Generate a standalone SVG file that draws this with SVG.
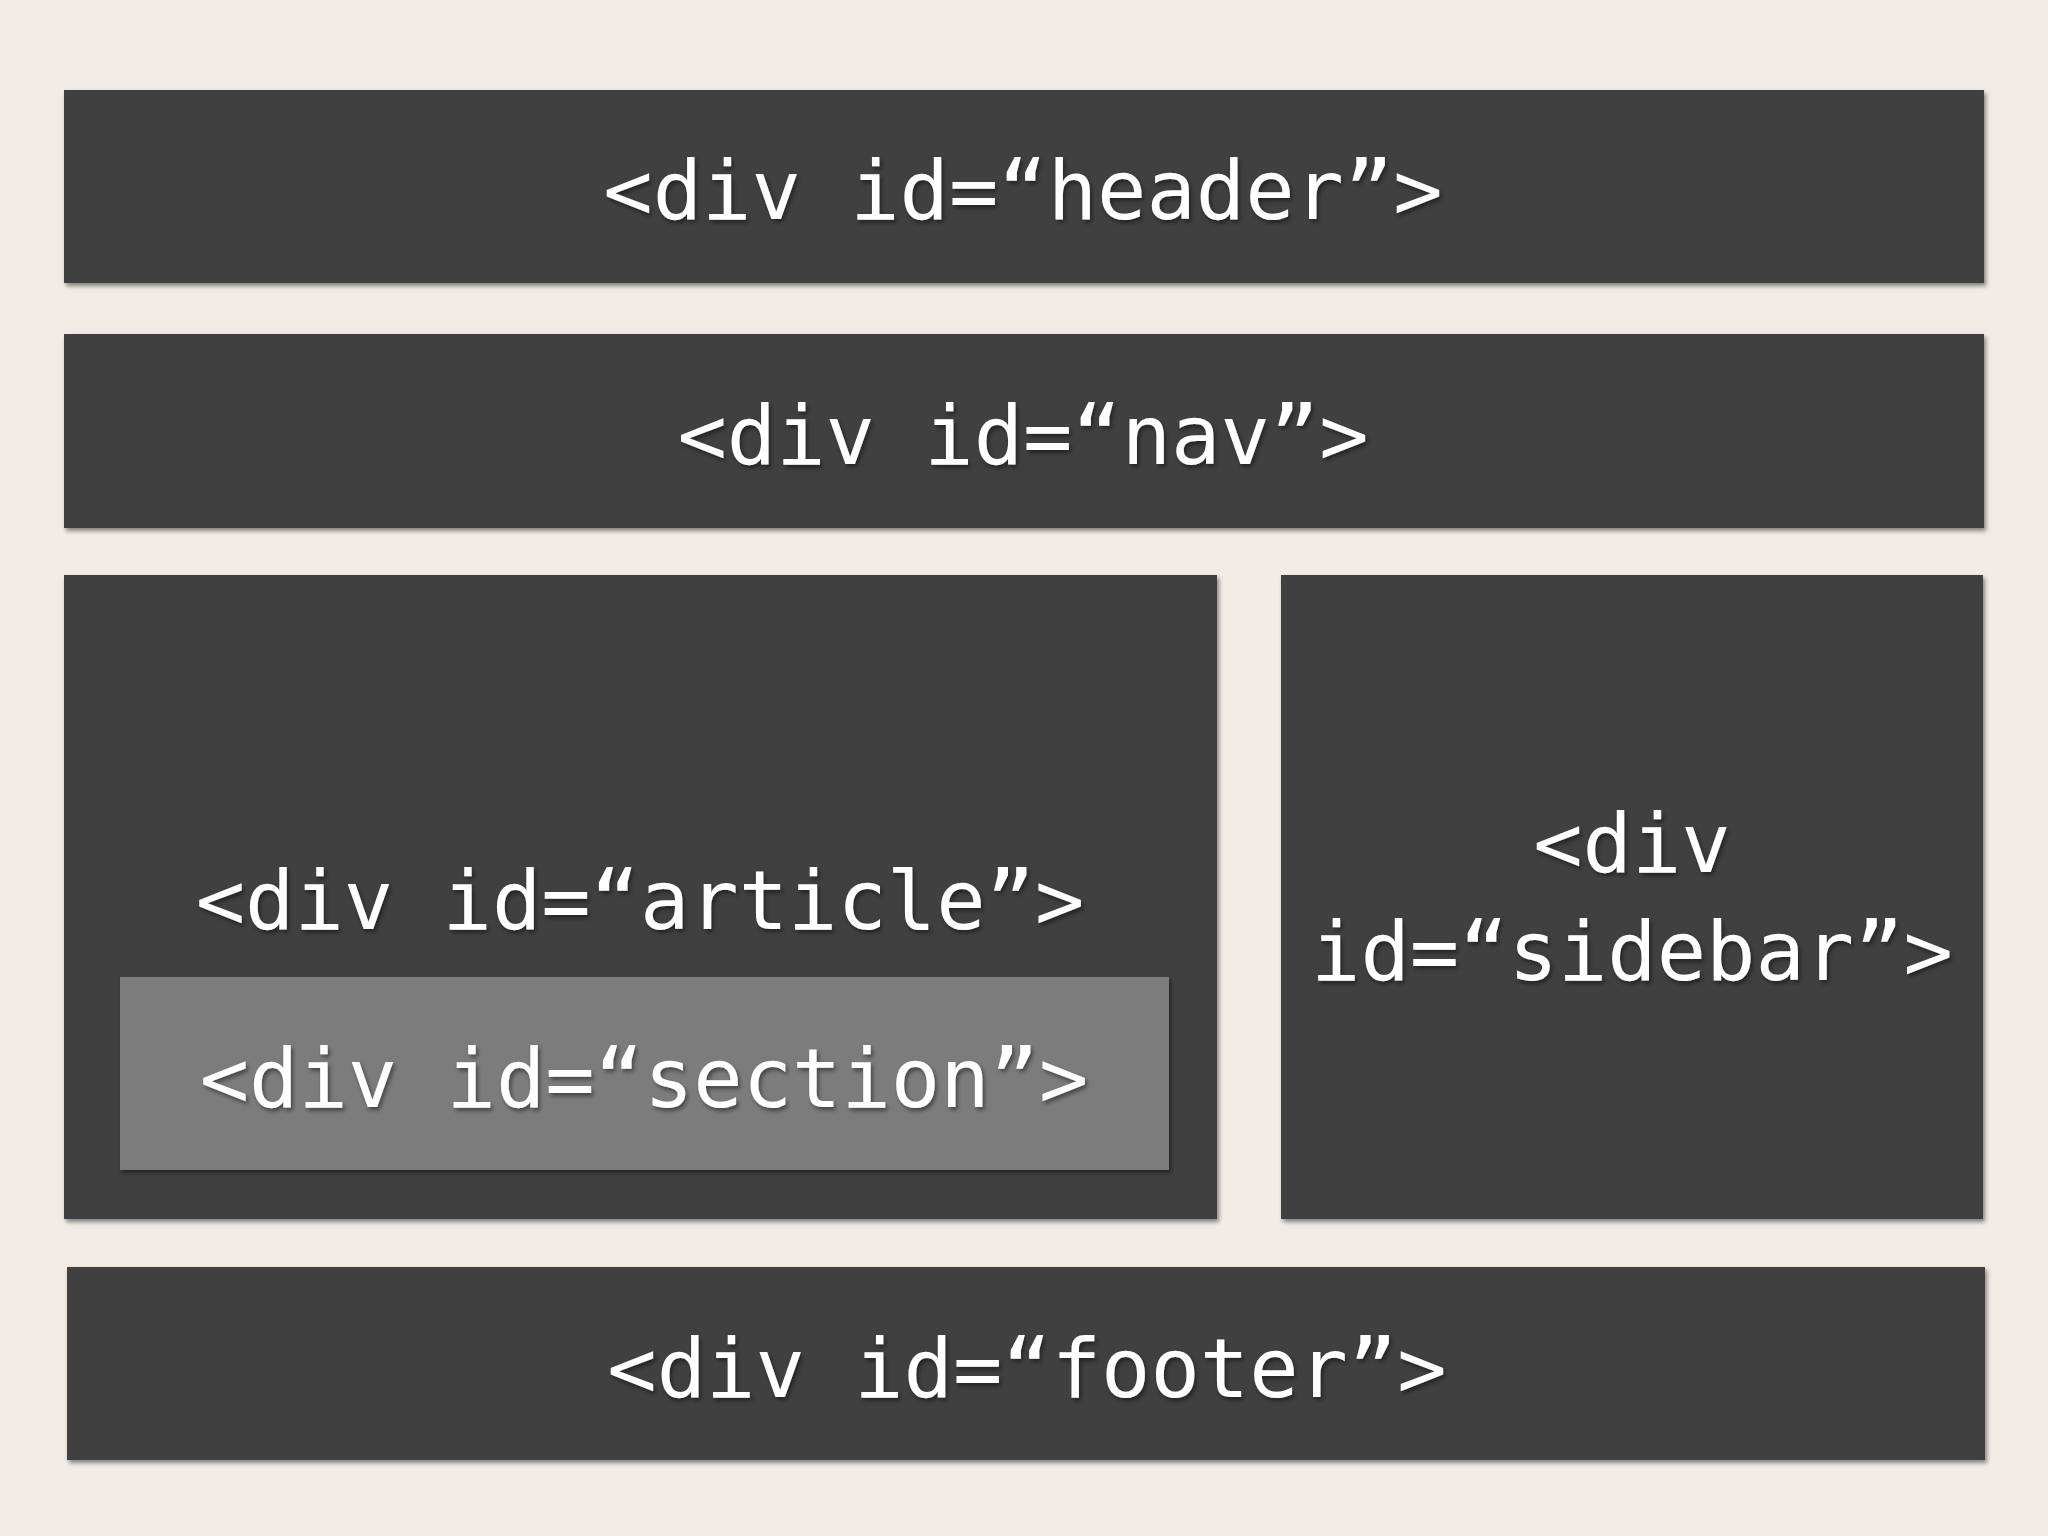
<svg xmlns="http://www.w3.org/2000/svg" width="2048" height="1536" viewBox="0 0 2048 1536">
<defs>
<filter id="sh" x="-5%" y="-20%" width="110%" height="140%"><feDropShadow dx="2" dy="3" stdDeviation="2" flood-color="#000" flood-opacity="0.45"/></filter>
</defs>
<style>
.box{fill:#404040;filter:url(#sh)}
.sec{fill:#7b7b7b;filter:url(#sh)}
.t{font-family:"DejaVu Sans Mono","Liberation Mono",monospace;font-size:82px;fill:#ffffff;text-anchor:middle;filter:url(#sh)}
</style>
<rect width="2048" height="1536" fill="#f0ebe4"/>
<g id="header"><rect class="box" x="64" y="90" width="1920" height="193"/><text class="t" x="1023" y="219">&lt;div id=“header”&gt;</text></g>
<g id="nav"><rect class="box" x="64" y="334" width="1920" height="194"/><text class="t" x="1023" y="464">&lt;div id=“nav”&gt;</text></g>
<g id="article"><rect class="box" x="64" y="575" width="1153" height="644"/><text class="t" x="640" y="929">&lt;div id=“article”&gt;</text></g>
<g id="section"><rect class="sec" x="120" y="977" width="1049" height="193"/><text class="t" x="644" y="1107">&lt;div id=“section”&gt;</text></g>
<g id="sidebar"><rect class="box" x="1281" y="575" width="702" height="644"/><text class="t" x="1632" y="872">&lt;div</text><text class="t" x="1632" y="980">id=“sidebar”&gt;</text></g>
<g id="footer"><rect class="box" x="67" y="1267" width="1918" height="193"/><text class="t" x="1027" y="1397">&lt;div id=“footer”&gt;</text></g>
<g id="connectors"/>
</svg>
